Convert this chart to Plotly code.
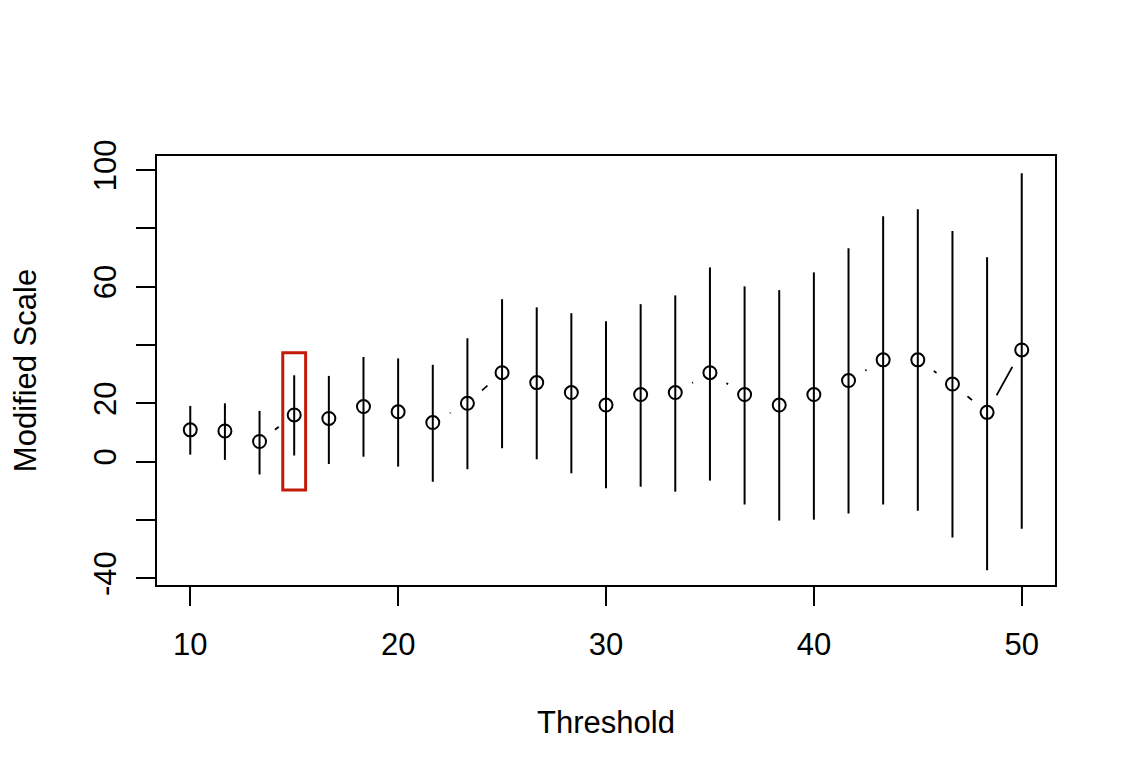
import plotly.graph_objects as go

# Data
thresholds = [10.0, 11.667, 13.333, 15.0, 16.667, 18.333, 20.0, 21.667, 23.333, 25.0,
              26.667, 28.333, 30.0, 31.667, 33.333, 35.0, 36.667, 38.333, 40.0, 41.667,
              43.333, 45.0, 46.667, 48.333, 50.0]
modified_scale = [10.9, 10.5, 6.9, 16.0, 14.8, 18.9, 17.1, 13.4, 20.0, 30.5,
                  27.1, 23.7, 19.4, 23.0, 23.7, 30.5, 23.0, 19.4, 23.0, 27.8,
                  34.9, 34.9, 26.6, 16.9, 38.3]
ci_lower = [2.4, 0.6, -4.4, 2.1, -0.8, 1.7, -1.7, -6.9, -2.6, 4.6,
            0.8, -4.0, -9.1, -8.6, -10.3, -6.5, -14.7, -20.2, -19.9, -17.8,
            -14.7, -16.8, -26.0, -37.2, -23.0]
ci_upper = [19.1, 20.0, 17.4, 29.6, 29.4, 35.9, 35.4, 33.2, 42.3, 55.7,
            52.9, 50.9, 48.1, 54.0, 57.0, 66.6, 60.1, 58.8, 64.9, 73.2,
            84.1, 86.5, 79.1, 70.1, 98.9]

x_ticks = [10, 20, 30, 40, 50]
y_ticks = [-40, -20, 0, 20, 40, 60, 80, 100]
y_ticktext = ["-40", "", "0", "20", "", "60", "", "100"]

highlight_threshold = 15.0
highlight_halfwidth = 0.55
highlight_y = [-9.7, 37.3]

err_plus = [u - m for u, m in zip(ci_upper, modified_scale)]
err_minus = [m - l for m, l in zip(modified_scale, ci_lower)]

FONT = "Liberation Sans, Arial, sans-serif"

fig = go.Figure()
# connecting line (R type="b")
fig.add_trace(go.Scatter(x=thresholds, y=modified_scale, mode="lines",
                         line=dict(color="black", width=1.8), hoverinfo="skip",
                         showlegend=False))
# white masks to create gaps around points
fig.add_trace(go.Scatter(x=thresholds, y=modified_scale, mode="markers",
                         marker=dict(symbol="circle", size=39, color="white",
                                     line=dict(width=0)),
                         hoverinfo="skip", showlegend=False))
# points with confidence intervals
fig.add_trace(go.Scatter(x=thresholds, y=modified_scale, mode="markers",
                         marker=dict(symbol="circle-open", size=13, color="black",
                                     line=dict(width=2, color="black")),
                         error_y=dict(type="data", symmetric=False, array=err_plus,
                                      arrayminus=err_minus, width=0, thickness=2,
                                      color="black"),
                         showlegend=False))

fig.add_shape(type="rect", xref="x", yref="y",
              x0=highlight_threshold - highlight_halfwidth,
              x1=highlight_threshold + highlight_halfwidth,
              y0=highlight_y[0], y1=highlight_y[1],
              line=dict(color="#C41A0B", width=3), layer="above")

fig.update_layout(
    width=1136, height=782,
    margin=dict(l=149, r=89, t=148, b=205),
    paper_bgcolor="white", plot_bgcolor="white",
    font=dict(family=FONT, size=31, color="black"),
    xaxis=dict(range=[8.4, 51.6], tickvals=x_ticks, ticks="outside", ticklen=19,
               tickwidth=2, tickcolor="black", showline=True, linewidth=2,
               linecolor="black", mirror=True, showgrid=False, zeroline=False,
               ticklabelstandoff=12,
               title=dict(text="Threshold", standoff=50,
                          font=dict(family=FONT, size=31))),
    yaxis=dict(range=[-42.3, 104.8], tickvals=y_ticks, ticktext=y_ticktext,
               tickangle=-90, ticks="outside", ticklen=19, tickwidth=2,
               tickcolor="black", showline=True, linewidth=2, linecolor="black",
               mirror=True, showgrid=False, zeroline=False, ticklabelstandoff=8,
               title=dict(text="Modified Scale", standoff=46,
                          font=dict(family=FONT, size=31))),
)

fig.write_html("out.html")
